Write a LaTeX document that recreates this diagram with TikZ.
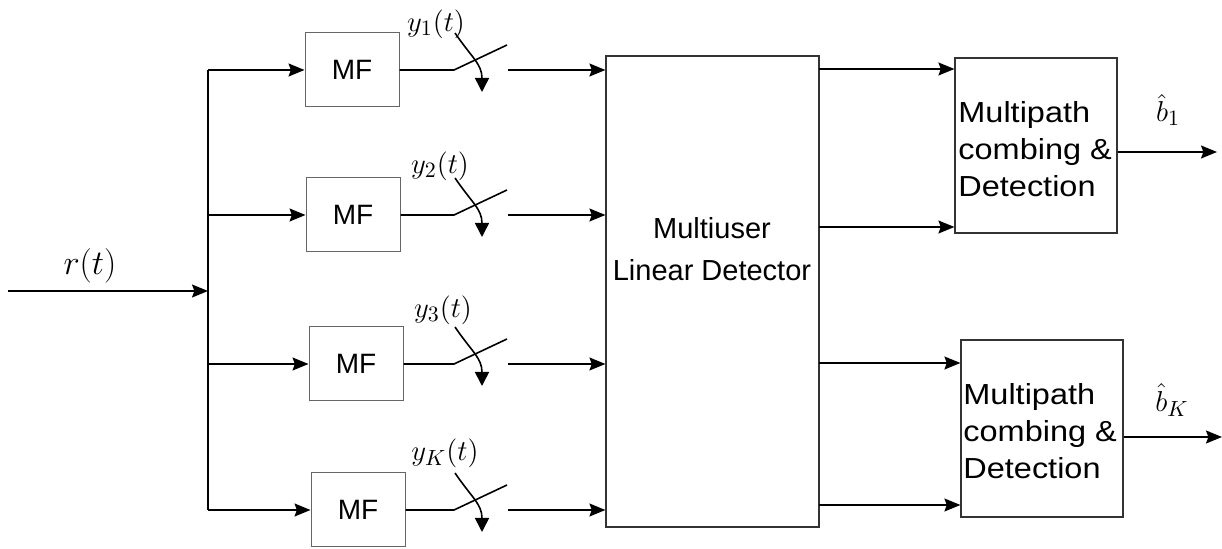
\documentclass[tikz,border=0pt]{standalone}
\usepackage{fontspec}
\setmainfont{Liberation Sans}
\usetikzlibrary{arrows.meta}
\begin{document}
\begin{tikzpicture}[x=0.5pt,y=-0.5pt,
  wire/.style={line width=0.8pt},
  sig/.style={wire,-{Stealth[length=8pt,width=6.5pt,inset=1.2pt]}},
  samp/.style={wire,-{Triangle[length=7pt,width=7pt]}},
  mfbox/.style={draw=black!60,line width=0.5pt,minimum width=47pt,minimum height=37pt,
    inner sep=0pt,font=\fontsize{14}{16}\selectfont},
  blk/.style={draw=black!80,line width=0.6pt,inner sep=0pt},
  lbl/.style={inner sep=0pt,font=\fontsize{15}{17}\selectfont},
  blktext/.style={inner sep=0pt,align=left,font=\fontsize{14.5}{18.5}\selectfont}]
\useasboundingbox (0,0) rectangle (1222,549);

% linear detector and the two combiners
\node[blk,minimum width=106.5pt,minimum height=235.5pt] (mud) at (712.5,291.5) {};
\node[inner sep=0pt,align=center,font=\fontsize{14.5}{21}\selectfont] (mudtxt) at (712,249)
  {Multiuser\\Linear Detector};
\node[blk,minimum width=81pt,minimum height=87.5pt] (comb1) at (1036,145.5) {};
\node[blk,minimum width=81pt,minimum height=88.5pt] (combK) at (1042,428.5) {};
\node[blktext,anchor=west] (comb1txt) at (958,152)
  {\scalebox{1.12}[1]{\begin{tabular}{@{}l@{}}Multipath\\combing \&\\Detection\end{tabular}}};
\node[blktext,anchor=west] (combKtxt) at (963,434)
  {\scalebox{1.12}[1]{\begin{tabular}{@{}l@{}}Multipath\\combing \&\\Detection\end{tabular}}};

% received signal and distribution bus
\coordinate (rin) at (8,291);
\coordinate (busin) at (208,291);
\coordinate (busT) at (208,70);
\coordinate (busB) at (208,510);
\draw[sig] (rin) -- (busin);
\draw[wire] (busT) -- (busB);
\node[lbl,font=\fontsize{16.5}{18}\selectfont] (rlab) at (90,266) {$r(t)$};

% matched filters and samplers
\foreach \n/\y/\mx/\s/\lx/\ly in {1/70/352/1/436/24, 2/215/353/2/440/166,
                                 3/364/356/3/443/310, 4/510/358/K/445/453}{
  \coordinate (bus\n) at (208,\y);
  \node[mfbox] (mf\n) at (\mx,\y) {MF};
  \draw[sig] (bus\n) -- (mf\n.west);
  \coordinate (swa\n) at (454,\y);
  \coordinate (swb\n) at (507,\y-25);
  \draw[wire] (mf\n.east) -- (swa\n) -- (swb\n);
  \coordinate (out\n) at (508,\y);
  \draw[sig] (out\n) -- (mud.west |- out\n);
  \node[lbl] (lab\n) at (\lx,\ly) {$y_{\s}(t)$};
  \coordinate (ck\n) at (455,\y-37);
  \coordinate (tip\n) at (482,\y+22);
  \draw[samp] (ck\n) .. controls (472,\y-12) and (482,\y-6) .. (tip\n);
}

% detector outputs into the combiners
\coordinate (d1) at (819,69);
\coordinate (d2) at (819,227);
\coordinate (d3) at (819,363);
\coordinate (d4) at (819,505);
\draw[sig] (d1) -- (comb1.west |- d1);
\draw[sig] (d2) -- (comb1.west |- d2);
\draw[sig] (d3) -- (combK.west |- d3);
\draw[sig] (d4) -- (combK.west |- d4);

% decisions
\coordinate (b1end) at (1217,152);
\coordinate (bKend) at (1222,437);
\draw[sig] (comb1.east |- b1end) -- (b1end);
\draw[sig] (combK.east |- bKend) -- (bKend);
\node[lbl] (b1lab) at (1168,110) {$\hat{b}_1$};
\node[lbl] (bKlab) at (1172,400) {$\hat{b}_K$};
\end{tikzpicture}
\end{document}
